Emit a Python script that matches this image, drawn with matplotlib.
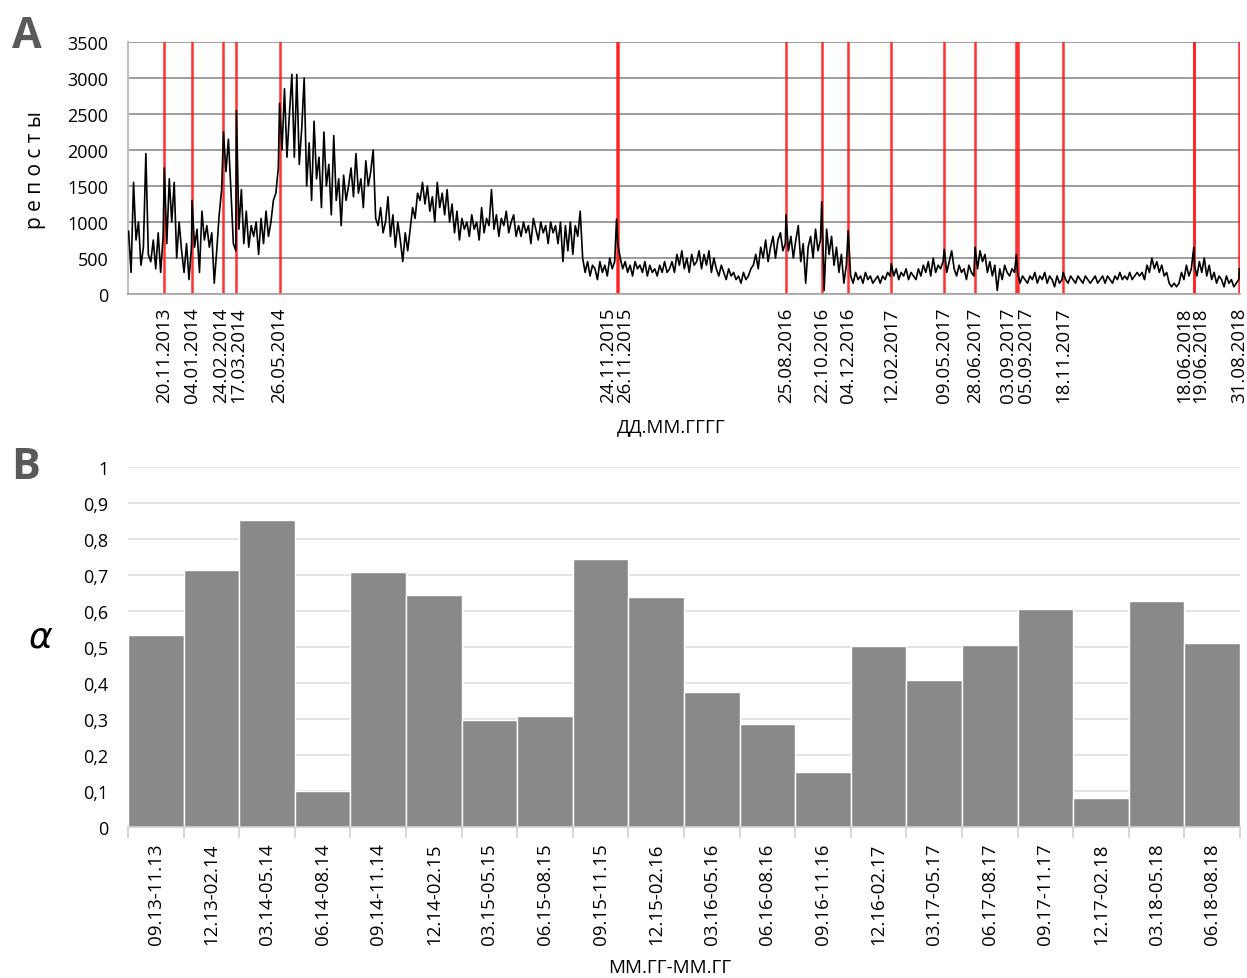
# Репосты по дням (A) и коэффициент alpha по кварталам (B)
import pandas as pd
import matplotlib.pyplot as plt
import matplotlib.dates as mdates

plt.rcParams['font.family'] = ['Open Sans', 'DejaVu Sans']

# --- A: даты отмеченных событий (красные линии) ---
event_labels = [
    '20.11.2013', '04.01.2014', '24.02.2014', '17.03.2014', '26.05.2014',
    '24.11.2015', '26.11.2015', '25.08.2016', '22.10.2016', '04.12.2016',
    '12.02.2017', '09.05.2017', '28.06.2017', '03.09.2017', '05.09.2017',
    '18.11.2017', '18.06.2018', '19.06.2018', '31.08.2018',
]
series_start = '23.09.2013'

# значения репостов (шаг 4 дня), по отрезкам между событиями
seg_start = [870, 300, 1550, 750, 1000, 400, 650, 1950, 550, 450, 750, 350, 850, 300, 800]
seg_20_11_13 = [1750, 700, 1600, 1000, 1550, 500, 1000, 600, 300, 700, 200, 650]
seg_04_01_14 = [1300, 650, 900, 300, 1150, 750, 950, 650, 850, 150, 600, 1100, 1450]
seg_24_02_14 = [2250, 1700, 2150, 1450, 700, 600]
seg_17_03_14 = [2550, 900, 1450, 700, 1150, 650, 950, 800, 1000, 550, 1050, 700,
                1150, 800, 1000, 1300, 1400, 1750]
seg_26_05_14 = [2650, 2000, 2850, 1900, 2500, 3050, 1900, 3050, 1800, 2300, 3000,
                1500, 2100, 1300, 2400, 1600, 1900, 1200, 2250, 1500, 1800, 1100,
                2200, 1300, 1600, 950, 1650,
                1300, 1500, 1750, 1350, 1950, 1400, 1600, 1200, 1850, 1500, 1700, 2000,
                1050, 950, 1200, 850, 1000, 1350, 800, 1100, 650, 1000,
                750, 450, 850, 600,
                900, 1200, 1050, 1400, 1300, 1550, 1250, 1500,
                1150, 1350, 1000, 1550, 1200, 1400, 1100, 1450,
                1000, 1250, 850, 1150, 750, 1050, 900, 1000,
                800, 1100, 900, 1000, 750, 1200, 850, 1050, 950, 1450,
                900, 1100, 800, 1050, 950, 1150, 850, 1000, 1100, 800,
                950, 800, 1000, 850, 950, 700, 1050, 900, 750, 1000, 850, 950,
                700, 1000, 850, 950,
                700, 1000, 450, 950, 600, 1000, 550, 950, 800, 1150,
                500, 300, 450, 250, 400, 350, 200, 450, 300, 400, 250, 500, 350, 450]
seg_24_11_15 = [1040]
seg_26_11_15 = [700, 500, 350, 450, 300, 400, 250, 450, 350,
                400, 300, 450, 250, 400, 300, 350, 250, 400, 300, 450, 300,
                350, 450, 300, 550, 400, 600, 350, 500, 300, 550, 400, 450,
                600, 350, 550, 400, 600, 300, 500, 350, 250, 400,
                300, 200, 350, 250, 300, 200, 250, 150, 300, 200, 250, 350,
                400, 550, 350, 650, 500, 750, 450, 650, 800, 500, 750, 850, 600, 700]
seg_25_08_16 = [1100, 600, 800, 500, 750, 950, 450, 700, 150, 650, 800, 500, 900, 600, 750]
seg_22_10_16 = [1280, 50, 900, 550, 800, 400, 650, 300, 550, 150, 400]
seg_04_12_16 = [880, 250, 150, 300, 200, 250, 150, 300, 200, 250, 150, 200, 250, 150,
                250, 200, 300, 250]
seg_12_02_17 = [420, 250, 350, 200, 300, 250, 350, 200, 300, 250, 200, 350, 250, 400,
                300, 450, 250, 500, 300, 400, 350, 450]
seg_09_05_17 = [620, 300, 450, 600, 350, 250, 400, 300, 350, 200, 400, 300, 250]
seg_28_06_17 = [650, 350, 600, 450, 550, 300, 450, 250, 400, 50, 350, 200, 400, 300,
                250, 350, 300]
seg_03_09_17 = [550]
seg_05_09_17 = [300, 150, 250, 200, 150, 250, 200, 300, 150, 250, 200, 300, 150, 250,
                200, 100, 250, 150, 200]
seg_18_11_17 = [300, 200, 150, 250, 200, 150, 250, 200, 150, 250, 200, 150, 200, 250, 150,
                200, 250, 150, 250, 200, 150, 250, 200, 300, 200, 250, 200, 300, 200, 250, 300,
                250, 300, 200, 400, 300, 500, 350, 450, 300, 400, 250, 300,
                150, 100, 150, 100, 150, 300, 200, 400, 250, 350]
seg_18_06_18 = [650]
seg_19_06_18 = [400, 250, 450, 300, 500, 250, 400, 200, 300, 150, 250, 200, 100, 250,
                150, 200, 100, 150, 200]
seg_31_08_18 = [350]

segments = [seg_start, seg_20_11_13, seg_04_01_14, seg_24_02_14, seg_17_03_14,
            seg_26_05_14, seg_24_11_15, seg_26_11_15, seg_25_08_16, seg_22_10_16,
            seg_04_12_16, seg_12_02_17, seg_09_05_17, seg_28_06_17, seg_03_09_17,
            seg_05_09_17, seg_18_11_17, seg_18_06_18, seg_19_06_18, seg_31_08_18]

# --- B: коэффициент alpha по периодам ---
periods = ['09.13-11.13', '12.13-02.14', '03.14-05.14', '06.14-08.14', '09.14-11.14',
           '12.14-02.15', '03.15-05.15', '06.15-08.15', '09.15-11.15', '12.15-02.16',
           '03.16-05.16', '06.16-08.16', '09.16-11.16', '12.16-02.17', '03.17-05.17',
           '06.17-08.17', '09.17-11.17', '12.17-02.18', '03.18-05.18', '06.18-08.18']
alpha_vals = [0.533, 0.714, 0.853, 0.10, 0.708, 0.644, 0.297, 0.308, 0.744, 0.639,
              0.375, 0.286, 0.153, 0.503, 0.408, 0.506, 0.606, 0.08, 0.628, 0.511]

# сдвиг подписей для близких дат (в пикселях)
label_shift = {'24.02.2014': -2, '17.03.2014': 2,
               '24.11.2015': -8, '26.11.2015': 7, '03.09.2017': -8,
               '05.09.2017': 8, '18.06.2018': -9, '19.06.2018': 6}

events = pd.to_datetime(event_labels, format='%d.%m.%Y')
starts = [pd.to_datetime(series_start, format='%d.%m.%Y')] + list(events)
dates, values = [], []
for st, vals in zip(starts, segments):
    dates.extend(pd.date_range(st, periods=len(vals), freq='4D'))
    values.extend(vals)

W, H = 1247, 979
fig = plt.figure(figsize=(W / 100, H / 100), dpi=100)

# ---------- A ----------
axA = fig.add_axes([128 / W, 1 - 295 / H, 1112 / W, 252 / H])
for d in events:
    axA.axvline(d, color='#ff1a1a', lw=1.8, alpha=0.9, zorder=2)
axA.plot(dates, values, color='black', lw=1.2, zorder=3)
axA.set_ylim(0, 3500)
axA.set_yticks(range(0, 3501, 500))
axA.set_xlim(pd.Timestamp('2013-09-22'), pd.Timestamp('2018-09-01'))
axA.yaxis.grid(True, color='#8c8c8c', lw=1.2, zorder=1)
axA.set_axisbelow(True)
axA.set_xticks([])
axA.tick_params(axis='y', length=0, pad=14, labelsize=13)
for s in ['top', 'right']:
    axA.spines[s].set_visible(False)
axA.spines['left'].set_color('#bfbfbf')
axA.spines['left'].set_linewidth(1.5)
axA.spines['bottom'].set_color('#a6a6a6')
axA.spines['bottom'].set_linewidth(1.2)

for lab, d in zip(event_labels, events):
    dx = label_shift.get(lab, 0) * 0.72
    axA.annotate(lab, xy=(mdates.date2num(d), 0), xycoords=('data', 'axes fraction'),
                 xytext=(dx, -9), textcoords='offset points', rotation=90,
                 ha='center', va='top', fontsize=13.5)

fig.text(671 / W, 1 - 427 / H, 'ДД.ММ.ГГГГ', ha='center', va='center', fontsize=13.5)
fig.text(35 / W, 1 - 170 / H, 'р е п о с т ы', rotation=90, ha='center',
         va='center', fontsize=15)
fig.text(12 / W, 1 - 48 / H, 'A', fontsize=31, weight='bold', color='#595959',
         va='baseline')

# ---------- B ----------
axB = fig.add_axes([128 / W, 1 - 828 / H, 1112 / W, 360 / H])
x = range(len(periods))
axB.bar(x, alpha_vals, width=1.0, color='#898989', edgecolor='white', lw=1.0, zorder=2)
axB.set_xlim(-0.5, len(periods) - 0.5)
axB.set_ylim(0, 1)
axB.set_yticks([i / 10 for i in range(11)])
axB.set_yticklabels(['0'] + ['0,%d' % i for i in range(1, 10)] + ['1'])
axB.yaxis.grid(True, color='black', alpha=0.13, lw=1.2, zorder=3)
axB.set_xticks(list(x))
axB.set_xticklabels(periods, rotation=90, fontsize=13.5)
axB.set_xticks([i - 0.5 for i in range(len(periods) + 1)], minor=True)
axB.tick_params(axis='x', which='major', length=0, pad=11)
axB.tick_params(axis='x', which='minor', length=8, color='#d0d0d0', width=1.2)
axB.tick_params(axis='y', length=0, pad=14, labelsize=13)
for s in ['top', 'right', 'left']:
    axB.spines[s].set_visible(False)
axB.spines['bottom'].set_color('#d0d0d0')
axB.spines['bottom'].set_linewidth(1.2)

fig.text(670 / W, 1 - 968 / H, 'ММ.ГГ-ММ.ГГ', ha='center', va='center', fontsize=13.5)
fig.text(41 / W, 1 - 639 / H, r'$\alpha$', ha='center', va='center', fontsize=26)
fig.text(11 / W, 1 - 479 / H, 'B', fontsize=31, weight='bold', color='#595959',
         va='baseline')

fig.savefig('out.png', dpi=100)
